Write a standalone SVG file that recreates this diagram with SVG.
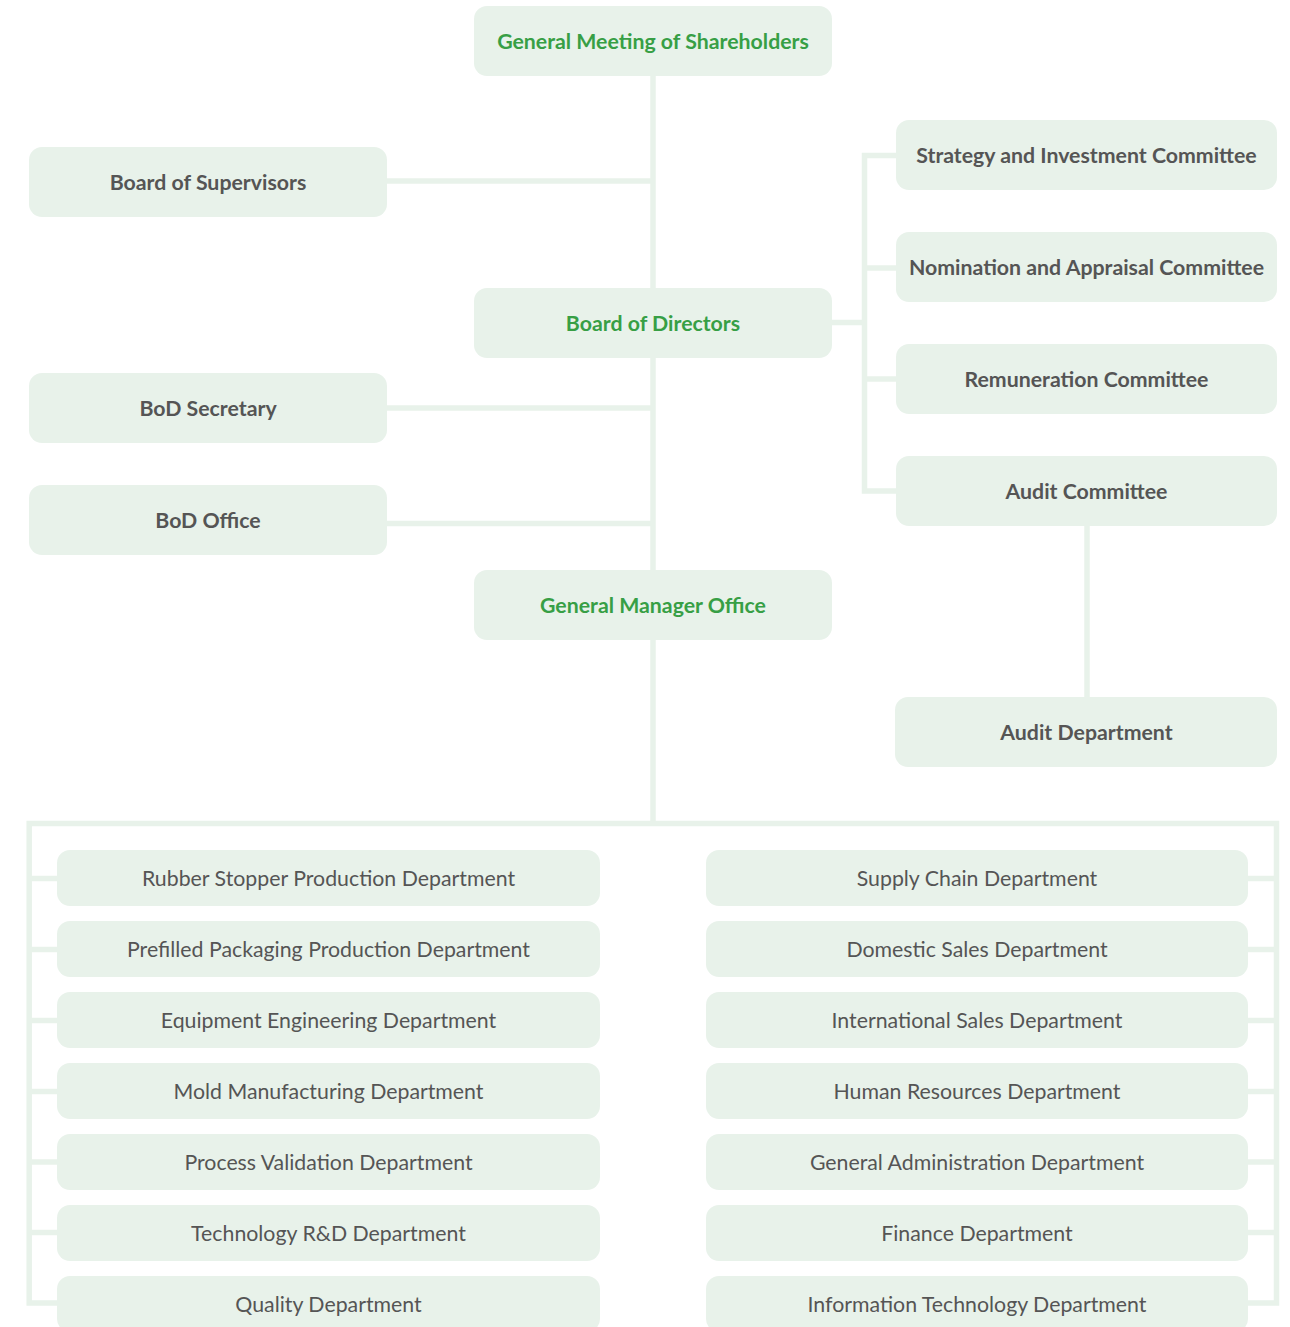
<svg xmlns="http://www.w3.org/2000/svg" width="1290" height="1327" viewBox="0 0 1290 1327">
<style>
.box{fill:#e8f2ea}
.ln{fill:none;stroke:#e8f2ea;stroke-width:5.5;stroke-linejoin:miter;stroke-linecap:butt}
text{font-family:Lato,"Noto Sans","Liberation Sans",sans-serif;font-size:21.3px;text-anchor:middle}
.g{fill:#379f45;font-weight:700}
.b{fill:#555555;font-weight:700}
.r{fill:#555555;font-weight:400}
</style>
<rect width="1290" height="1327" fill="#ffffff"/>
<g id="connectors">
<line class="ln" x1="653" y1="76" x2="653" y2="823.5"/>
<line class="ln" x1="387" y1="181" x2="653" y2="181"/>
<line class="ln" x1="387" y1="408" x2="653" y2="408"/>
<line class="ln" x1="387" y1="523.5" x2="653" y2="523.5"/>
<line class="ln" x1="832" y1="322.5" x2="864.5" y2="322.5"/>
<polyline class="ln" points="896,155.5 864.5,155.5 864.5,491 896,491"/>
<line class="ln" x1="864.5" y1="268" x2="896" y2="268"/>
<line class="ln" x1="864.5" y1="379" x2="896" y2="379"/>
<line class="ln" x1="1087" y1="526" x2="1087" y2="697"/>
<polyline class="ln" points="57,1303 29.2,1303 29.2,823.5 1276.5,823.5 1276.5,1303 1248,1303"/>
<line class="ln" x1="29.2" y1="878.5" x2="57" y2="878.5"/>
<line class="ln" x1="29.2" y1="949.5" x2="57" y2="949.5"/>
<line class="ln" x1="29.2" y1="1020.5" x2="57" y2="1020.5"/>
<line class="ln" x1="29.2" y1="1091.5" x2="57" y2="1091.5"/>
<line class="ln" x1="29.2" y1="1162" x2="57" y2="1162"/>
<line class="ln" x1="29.2" y1="1232.5" x2="57" y2="1232.5"/>
<line class="ln" x1="1248" y1="878.5" x2="1276.5" y2="878.5"/>
<line class="ln" x1="1248" y1="949.5" x2="1276.5" y2="949.5"/>
<line class="ln" x1="1248" y1="1020.5" x2="1276.5" y2="1020.5"/>
<line class="ln" x1="1248" y1="1091.5" x2="1276.5" y2="1091.5"/>
<line class="ln" x1="1248" y1="1162" x2="1276.5" y2="1162"/>
<line class="ln" x1="1248" y1="1232.5" x2="1276.5" y2="1232.5"/>
</g>
<g id="gms"><rect class="box" x="474" y="6" width="358" height="70" rx="13"/><text class="g" x="653" y="49">General Meeting of Shareholders</text></g>
<g id="supervisors"><rect class="box" x="29" y="147" width="358" height="70" rx="13"/><text class="b" x="208" y="190">Board of Supervisors</text></g>
<g id="bod"><rect class="box" x="474" y="288" width="358" height="70" rx="13"/><text class="g" x="653" y="330.5">Board of Directors</text></g>
<g id="secretary"><rect class="box" x="29" y="373" width="358" height="70" rx="13"/><text class="b" x="208" y="415.5">BoD Secretary</text></g>
<g id="bodoffice"><rect class="box" x="29" y="485" width="358" height="70" rx="13"/><text class="b" x="208" y="527.5">BoD Office</text></g>
<g id="gmo"><rect class="box" x="474" y="570" width="358" height="70" rx="13"/><text class="g" x="653" y="612.5">General Manager Office</text></g>
<g id="strategy"><rect class="box" x="896" y="120" width="381" height="70" rx="13"/><text class="b" x="1086.5" y="162.5">Strategy and Investment Committee</text></g>
<g id="nomination"><rect class="box" x="896" y="232" width="381" height="70" rx="13"/><text class="b" x="1086.5" y="274.5">Nomination and Appraisal Committee</text></g>
<g id="remuneration"><rect class="box" x="896" y="344" width="381" height="70" rx="13"/><text class="b" x="1086.5" y="387">Remuneration Committee</text></g>
<g id="auditcom"><rect class="box" x="896" y="456" width="381" height="70" rx="13"/><text class="b" x="1086.5" y="499">Audit Committee</text></g>
<g id="auditdept"><rect class="box" x="895" y="697" width="382" height="70" rx="13"/><text class="b" x="1086.5" y="740">Audit Department</text></g>
<g id="d1"><rect class="box" x="57" y="850" width="543" height="56" rx="13"/><text class="r" x="328.5" y="885.5">Rubber Stopper Production Department</text></g>
<g id="d2"><rect class="box" x="57" y="921" width="543" height="56" rx="13"/><text class="r" x="328.5" y="956.5">Prefilled Packaging Production Department</text></g>
<g id="d3"><rect class="box" x="57" y="992" width="543" height="56" rx="13"/><text class="r" x="328.5" y="1027.5">Equipment Engineering Department</text></g>
<g id="d4"><rect class="box" x="57" y="1063" width="543" height="56" rx="13"/><text class="r" x="328.5" y="1098.5">Mold Manufacturing Department</text></g>
<g id="d5"><rect class="box" x="57" y="1134" width="543" height="56" rx="13"/><text class="r" x="328.5" y="1169.5">Process Validation Department</text></g>
<g id="d6"><rect class="box" x="57" y="1205" width="543" height="56" rx="13"/><text class="r" x="328.5" y="1240.5">Technology R&amp;D Department</text></g>
<g id="d7"><rect class="box" x="57" y="1276" width="543" height="56" rx="13"/><text class="r" x="328.5" y="1311.5">Quality Department</text></g>
<g id="d8"><rect class="box" x="706" y="850" width="542" height="56" rx="13"/><text class="r" x="977" y="885.5">Supply Chain Department</text></g>
<g id="d9"><rect class="box" x="706" y="921" width="542" height="56" rx="13"/><text class="r" x="977" y="956.5">Domestic Sales Department</text></g>
<g id="d10"><rect class="box" x="706" y="992" width="542" height="56" rx="13"/><text class="r" x="977" y="1027.5">International Sales Department</text></g>
<g id="d11"><rect class="box" x="706" y="1063" width="542" height="56" rx="13"/><text class="r" x="977" y="1098.5">Human Resources Department</text></g>
<g id="d12"><rect class="box" x="706" y="1134" width="542" height="56" rx="13"/><text class="r" x="977" y="1169.5">General Administration Department</text></g>
<g id="d13"><rect class="box" x="706" y="1205" width="542" height="56" rx="13"/><text class="r" x="977" y="1240.5">Finance Department</text></g>
<g id="d14"><rect class="box" x="706" y="1276" width="542" height="56" rx="13"/><text class="r" x="977" y="1311.5">Information Technology Department</text></g>
</svg>
